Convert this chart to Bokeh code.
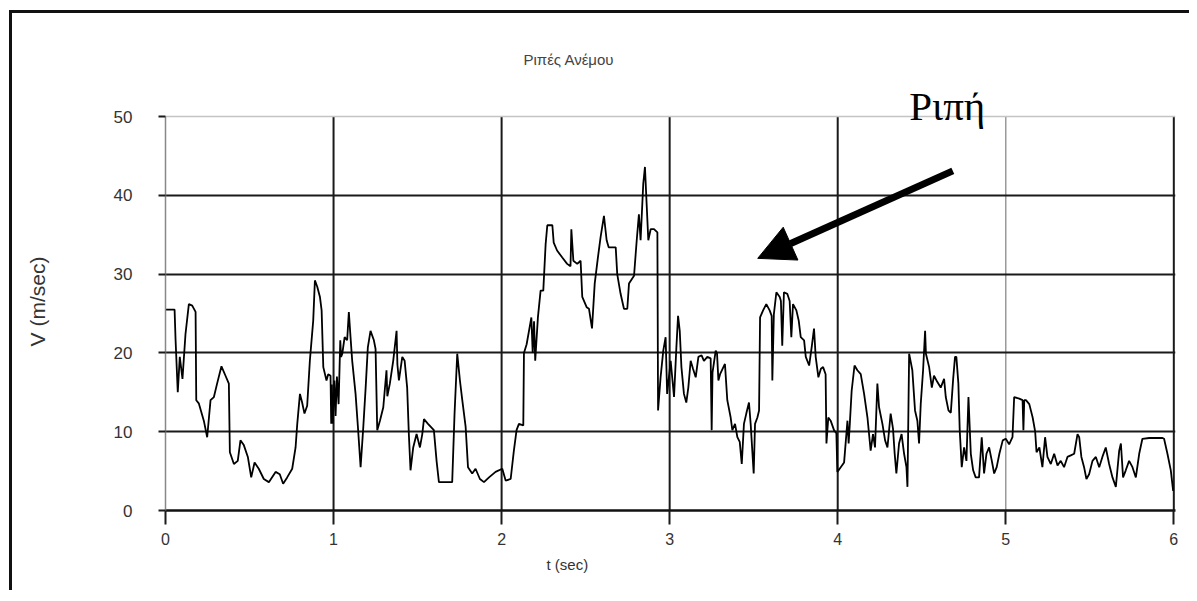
from bokeh.plotting import figure
from bokeh.models import Label, Arrow, NormalHead, FixedTicker, Grid, Range1d, Title
from bokeh.embed import file_html
from bokeh.resources import INLINE

title_text = "Ριπές Ανέμου"
x_label = "t (sec)"
y_label = "V (m/sec)"
annot_text = "Ριπή"
x_ticks = [0, 1, 2, 3, 4, 5, 6]
y_ticks = [0, 10, 20, 30, 40, 50]

t_sec = [
    0.0, 0.054, 0.060, 0.073, 0.085, 0.101, 0.119, 0.139, 0.159, 0.179, 0.183, 0.198, 0.228, 0.248,
    0.268, 0.288, 0.307, 0.333, 0.357, 0.377, 0.383, 0.407, 0.43, 0.446, 0.466, 0.49, 0.51, 0.53,
    0.555, 0.585, 0.615, 0.655, 0.68, 0.7, 0.724, 0.754, 0.774, 0.784, 0.8, 0.813, 0.827, 0.843,
    0.859, 0.879, 0.889, 0.903, 0.919, 0.929, 0.939, 0.958, 0.968, 0.982, 0.986, 0.99, 0.995,
    1.005, 1.012, 1.02, 1.03, 1.04, 1.045,
    1.052, 1.066, 1.081, 1.091, 1.101, 1.111, 1.131, 1.145, 1.161, 1.177, 1.191, 1.204, 1.22, 1.24,
    1.25, 1.26, 1.276, 1.296, 1.315, 1.32, 1.335, 1.355, 1.375, 1.38, 1.389, 1.409, 1.423, 1.438,
    1.448, 1.458, 1.474, 1.494, 1.514, 1.528, 1.538, 1.562, 1.597, 1.613, 1.627, 1.667, 1.706,
    1.72, 1.736, 1.752, 1.766, 1.786, 1.8, 1.825, 1.845, 1.871, 1.895, 1.925, 1.964, 2.004, 2.024,
    2.054, 2.073, 2.089, 2.103, 2.129, 2.133, 2.149, 2.163, 2.177, 2.185, 2.193, 2.2, 2.216, 2.232,
    2.248, 2.262, 2.272, 2.302, 2.31, 2.33, 2.361, 2.39, 2.41, 2.415, 2.427, 2.45, 2.47, 2.48,
    2.506, 2.52, 2.538, 2.554, 2.573, 2.589, 2.609, 2.625, 2.637, 2.679, 2.688, 2.708, 2.728,
    2.748, 2.758, 2.788, 2.804, 2.817, 2.827, 2.843, 2.853, 2.863, 2.873, 2.887, 2.907, 2.927,
    2.931, 2.946, 2.962, 2.976,
    2.985, 3.006, 3.026, 3.04, 3.05, 3.06, 3.07, 3.085, 3.099, 3.111, 3.125, 3.139, 3.155, 3.171,
    3.19, 3.204, 3.224, 3.244, 3.25, 3.255, 3.274, 3.282, 3.29, 3.3, 3.329, 3.343, 3.363, 3.373,
    3.389, 3.403, 3.417, 3.429, 3.442, 3.456, 3.472, 3.482, 3.5, 3.508, 3.522, 3.532, 3.538,
    3.556, 3.575, 3.595, 3.607, 3.611, 3.62, 3.635, 3.655, 3.662, 3.67, 3.68, 3.7, 3.714, 3.724,
    3.734, 3.754, 3.768, 3.78, 3.8, 3.81, 3.83, 3.845, 3.859, 3.869, 3.885, 3.9, 3.913, 3.928,
    3.933, 3.944, 3.958, 3.978, 3.992,
    3.998, 4.018, 4.038, 4.058, 4.065, 4.072, 4.083, 4.1, 4.117, 4.137, 4.157, 4.177, 4.196, 4.21,
    4.222, 4.236, 4.246, 4.266, 4.282, 4.296, 4.315, 4.329, 4.339, 4.349, 4.365, 4.38, 4.395,
    4.409, 4.415, 4.425, 4.444, 4.46, 4.474, 4.484, 4.494, 4.508, 4.52, 4.525, 4.544, 4.56, 4.573,
    4.593, 4.613, 4.633, 4.643, 4.659, 4.673, 4.687, 4.698, 4.706, 4.718, 4.726, 4.738, 4.752,
    4.766, 4.778, 4.792, 4.806, 4.821, 4.841, 4.857, 4.871, 4.885, 4.901, 4.917, 4.931, 4.946,
    4.962, 4.982, 5.0,
    5.02, 5.04, 5.05, 5.08, 5.1, 5.105, 5.11, 5.12, 5.14, 5.16, 5.175, 5.183, 5.2, 5.218, 5.234,
    5.248, 5.268, 5.288, 5.308, 5.327, 5.347, 5.367, 5.387, 5.407, 5.427, 5.437, 5.45, 5.466, 5.48,
    5.496, 5.516, 5.536, 5.556, 5.575, 5.595, 5.615, 5.635, 5.655, 5.675, 5.685, 5.698, 5.714,
    5.734, 5.754, 5.774, 5.794, 5.813, 5.853, 5.893, 5.933, 5.942, 5.962, 5.982, 5.996,
]

v_ms = [
    25.5, 25.5, 21.6, 15.0, 19.5, 16.7, 22.4, 26.2, 26.0, 25.2, 14.0, 13.6, 11.4, 9.3,
    14.0, 14.4, 16.1, 18.3, 17.1, 16.1, 7.4, 5.9, 6.3, 8.9, 8.3, 6.8, 4.2, 6.1,
    5.3, 4.0, 3.6, 4.9, 4.6, 3.4, 4.2, 5.3, 8.0, 11.0, 14.8, 13.7, 12.3, 13.3,
    19.0, 24.1, 29.2, 28.4, 27.1, 25.4, 18.2, 16.5, 17.3, 17.1, 11.0, 16.0, 11.0,
    16.5, 12.0, 17.0, 13.5, 21.6, 19.5,
    19.9, 22.0, 21.6, 25.2, 22.0, 19.0, 14.8, 10.6, 5.5, 10.6, 15.6, 20.7, 22.8, 21.6,
    20.5, 10.2, 11.4, 13.1, 17.8, 14.5, 16.1, 19.0, 22.8, 18.5, 16.5, 19.5, 19.0, 15.6,
    9.7, 5.1, 8.0, 9.7, 8.0, 9.7, 11.6, 11.0, 10.2, 6.3, 3.6, 3.6, 3.6,
    12.3, 19.9, 16.5, 14.0, 10.6, 5.5, 4.7, 5.3, 4.0, 3.6, 4.2, 4.9, 5.3, 3.8,
    4.0, 7.6, 10.2, 11.0, 10.8, 20.0, 21.1, 22.8, 24.5, 20.0, 24.0, 19.0, 24.5, 27.9,
    27.9, 33.8, 36.2, 36.2, 34.0, 33.0, 32.1, 31.3, 31.0, 35.7, 31.7, 31.3, 31.7, 27.1,
    25.8, 25.6, 23.1, 28.8, 32.1, 34.7, 37.4, 34.3, 33.4, 33.4, 30.0, 27.5, 25.6,
    25.6, 28.8, 29.8, 34.3, 37.6, 34.3, 41.5, 43.6, 38.9, 34.3, 35.7, 35.7, 35.3,
    12.7, 16.9, 20.3, 22.0,
    14.8, 19.0, 14.4, 20.7, 24.7, 22.8, 18.2, 14.8, 13.7, 15.6, 19.0, 18.0, 16.9, 19.5,
    19.7, 19.0, 19.5, 19.3, 10.2, 17.5, 20.3, 19.9, 16.5, 17.3, 18.6, 14.0, 11.8, 10.2,
    11.0, 9.3, 8.7, 5.9, 11.0, 12.3, 13.7, 11.0, 4.7, 11.0, 11.8, 12.7, 24.5,
    25.4, 26.2, 25.4, 24.7, 16.5, 24.9, 27.7, 27.1, 26.6, 20.9, 27.7, 27.5, 26.6, 22.0,
    26.2, 25.4, 24.1, 22.0, 21.6, 19.5, 18.4, 20.7, 23.1, 19.5, 16.9, 18.0, 18.2, 17.3,
    8.5, 11.8, 11.4, 10.2, 9.8,
    4.9, 5.5, 6.1, 11.4, 8.5, 11.0, 15.2, 18.4, 17.8, 17.3, 14.8, 11.8, 7.6, 9.7,
    8.0, 16.1, 13.1, 11.0, 8.9, 8.0, 12.3, 10.4, 7.2, 4.7, 8.5, 9.7, 7.2,
    5.5, 3.0, 19.9, 17.8, 12.7, 11.4, 8.5, 13.5, 17.8, 22.8, 19.9, 18.2, 15.6, 17.1,
    16.3, 15.6, 16.7, 14.4, 12.7, 12.4, 16.7, 19.5, 19.5, 16.1, 10.2, 5.5, 8.0,
    6.3, 14.4, 7.2, 5.1, 4.2, 4.2, 9.3, 4.7, 7.2, 8.0, 6.3, 4.7, 5.5,
    7.2, 8.9, 9.1,
    8.4, 9.3, 14.4, 14.2, 14.0, 10.2, 14.0, 14.0, 13.5, 11.8, 10.0, 7.4, 8.0, 5.5, 9.3,
    6.8, 5.9, 7.2, 5.7, 6.3, 5.5, 6.8, 7.0, 7.2, 9.7, 9.3, 6.8, 5.5, 4.0,
    4.6, 6.3, 6.8, 5.5, 6.8, 8.0, 5.9, 4.2, 3.0, 7.6, 8.5, 4.2, 5.1,
    6.3, 5.5, 4.2, 7.2, 9.1, 9.2, 9.2, 9.2, 9.1, 7.2, 5.1, 2.5,
]

FONT = "Liberation Sans"
X_END = x_ticks[-1] + 0.01
Y_END = 53.05

p = figure(
    width=1180, height=580,
    x_range=Range1d(x_ticks[0], X_END), y_range=Range1d(y_ticks[0], Y_END),
    output_backend="svg", toolbar_location=None,
    min_border_left=153, min_border_right=17, min_border_top=79, min_border_bottom=83,
    background_fill_color="white", border_fill_color="white",
)
p.styles = {"border-left": "3px solid #111", "border-top": "3px solid #111",
            "margin-left": "9px", "margin-top": "10px"}
p.outline_line_color = None

# title (above the frame, shifted to match the original placement)
p.add_layout(Title(text=title_text, align="left", offset=358, standoff=50,
                   text_font=FONT, text_font_size="15px", text_font_style="normal",
                   text_color="#444444"), "above")

# horizontal grid lines
p.xgrid.visible = False
p.ygrid.ticker = FixedTicker(ticks=[y for y in y_ticks if y not in (y_ticks[0], y_ticks[-1])])
p.ygrid.grid_line_color = "#1a1a1a"
p.ygrid.grid_line_width = 2
p.add_layout(Grid(dimension=1, ticker=FixedTicker(ticks=[y_ticks[-1]]),
                  grid_line_color="#c4c4c4", grid_line_width=1.5))

# vertical grid lines limited to the 0..50 band
vx = [x for x in x_ticks if x not in (x_ticks[0], 5)]
p.segment(x0=vx, y0=[y_ticks[0]] * len(vx), x1=vx, y1=[y_ticks[-1]] * len(vx),
          line_color="#1a1a1a", line_width=2, level="underlay")
p.segment(x0=[5], y0=[y_ticks[0]], x1=[5], y1=[y_ticks[-1]],
          line_color="#9a9a9a", line_width=1.5, level="underlay")

# axes
p.xaxis.ticker = FixedTicker(ticks=x_ticks)
p.yaxis.ticker = FixedTicker(ticks=y_ticks)
p.yaxis.bounds = (y_ticks[0], y_ticks[-1])
p.xaxis.minor_tick_line_color = None
p.yaxis.minor_tick_line_color = None
p.xaxis.axis_line_color = "#111"
p.xaxis.axis_line_width = 2.5
p.yaxis.axis_line_color = "#888"
p.yaxis.axis_line_width = 1.5
p.xaxis.major_tick_out = 14
p.xaxis.major_tick_in = 0
p.xaxis.major_tick_line_width = 2
p.xaxis.major_tick_line_color = "#1a1a1a"
p.yaxis.major_tick_out = 7
p.yaxis.major_tick_in = 0
p.yaxis.major_tick_line_width = 2
p.yaxis.major_tick_line_color = "#1a1a1a"
for ax in (p.xaxis, p.yaxis):
    ax.major_label_text_font = FONT
    ax.major_label_text_color = "#333333"
    ax.axis_label_text_font = FONT
    ax.axis_label_text_color = "#333333"
    ax.axis_label_text_font_style = "normal"
p.xaxis.major_label_text_font_size = "16px"
p.yaxis.major_label_text_font_size = "17px"
p.yaxis.axis_label_text_font_size = "21px"
p.xaxis.major_label_standoff = 8
p.yaxis.major_label_standoff = 26
p.yaxis.axis_label = y_label
p.yaxis.axis_label_standoff = 62

# x-axis label as a shifted title below the axis
p.add_layout(Title(text=x_label, align="left", offset=381, standoff=16, vertical_align="top",
                   text_font=FONT, text_font_size="15px", text_font_style="normal",
                   text_color="#333333"), "below")

# data
p.line(t_sec, v_ms, line_color="black", line_width=1.8)

# annotation
p.add_layout(Label(x=4.652, y=51.3, text=annot_text, text_align="center", text_baseline="middle",
                   text_font="Liberation Serif", text_font_size="41px", text_color="black"))
p.add_layout(Arrow(end=NormalHead(size=36, fill_color="black", line_color="black"),
                   x_start=4.685, y_start=43.1, x_end=3.524, y_end=32.0,
                   line_width=7, line_color="black"))

open("out.html", "w").write(file_html(p, INLINE))
